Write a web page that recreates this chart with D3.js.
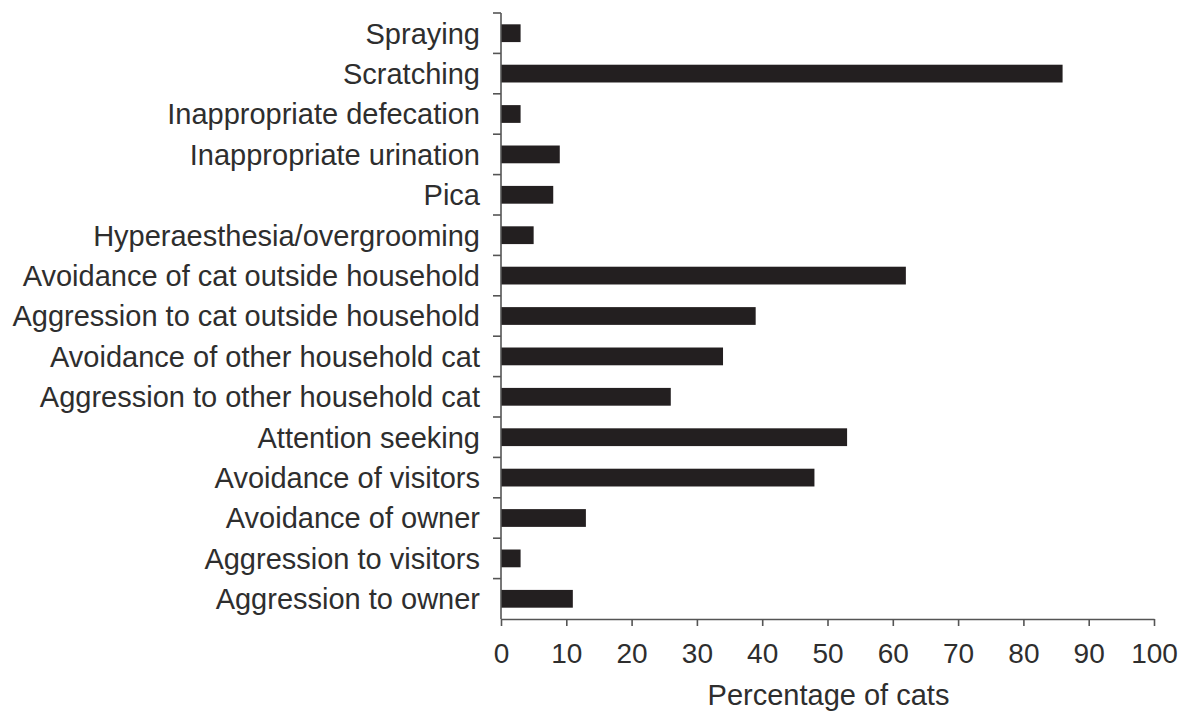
<!DOCTYPE html>
<html>
<head>
<meta charset="utf-8">
<script src="https://cdn.jsdelivr.net/npm/d3@7"></script>
<style>
  body { margin: 0; background: #fff; }
  text { font-family: "Liberation Sans", Arial, sans-serif; fill: #2e2e2e; }
</style>
</head>
<body>
<script>
var width = 1190
var height = 715

// categories top to bottom, and percentage of cats
var behaviours = ["Spraying", "Scratching", "Inappropriate defecation", "Inappropriate urination",
    "Pica", "Hyperaesthesia/overgrooming", "Avoidance of cat outside household",
    "Aggression to cat outside household", "Avoidance of other household cat",
    "Aggression to other household cat", "Attention seeking", "Avoidance of visitors",
    "Avoidance of owner", "Aggression to visitors", "Aggression to owner"];
var percentages = [3, 86, 3, 9, 8, 5, 62, 39, 34, 26, 53, 48, 13, 3, 11];
var xTicks = [0, 10, 20, 30, 40, 50, 60, 70, 80, 90, 100];

var margin = {top: 13, right: 36, bottom: 96, left: 501};

var svg = d3.select("body").append("svg")
    .attr("width", width)
    .attr("height", height)

var x = d3.scaleLinear()
    .domain([0, 100])
    .range([margin.left, width - margin.right])

var y = d3.scaleBand()
    .domain(behaviours)
    .range([margin.top, height - margin.bottom])
    .paddingInner(0.56)
    .paddingOuter(0.28)

// bars
svg.selectAll("rect.bar")
    .data(percentages)
    .enter().append("rect")
    .attr("class", "bar")
    .attr("x", x(0))
    .attr("y", function(d, i) { return y(behaviours[i]); })
    .attr("width", function(d) { return x(d) - x(0); })
    .attr("height", y.bandwidth())
    .attr("fill", "#231f20")

// y axis: ticks between categories
var yAxisG = svg.append("g")
    .attr("transform", "translate(" + margin.left + ",0)")
yAxisG.append("line")
    .attr("y1", margin.top).attr("y2", height - margin.bottom)
    .attr("stroke", "#555").attr("stroke-width", 1.6)
var step = y.step();
var boundaries = d3.range(behaviours.length).map(function(i) { return margin.top + i * step; });
yAxisG.selectAll("line.tick")
    .data(boundaries)
    .enter().append("line")
    .attr("class", "tick")
    .attr("x1", -8).attr("x2", 0)
    .attr("y1", function(d) { return d; })
    .attr("y2", function(d) { return d; })
    .attr("stroke", "#555").attr("stroke-width", 1.6)
yAxisG.selectAll("text")
    .data(behaviours)
    .enter().append("text")
    .attr("x", -21)
    .attr("y", function(d) { return y(d) + y.bandwidth() / 2; })
    .attr("dy", "0.36em")
    .attr("text-anchor", "end")
    .style("font-size", "29px")
    .text(function(d) { return d; })

// x axis
var xAxis = d3.axisBottom(x)
    .tickValues(xTicks)
    .tickSize(7)
    .tickSizeOuter(0)
    .tickPadding(17)
var xAxisG = svg.append("g")
    .attr("transform", "translate(0," + (height - margin.bottom) + ")")
    .call(xAxis)
xAxisG.select(".domain").attr("stroke", "#555").attr("stroke-width", 1.6)
xAxisG.selectAll(".tick line").attr("stroke", "#555").attr("stroke-width", 1.6)
xAxisG.selectAll(".tick text")
    .style("font-size", "28px")
    .style("font-family", "'Liberation Sans', Arial, sans-serif")
    .attr("fill", "#2e2e2e")

svg.append("text")
    .attr("x", x(50) + 1)
    .attr("y", 705)
    .attr("text-anchor", "middle")
    .style("font-size", "29px")
    .text("Percentage of cats")
</script>
</body>
</html>
